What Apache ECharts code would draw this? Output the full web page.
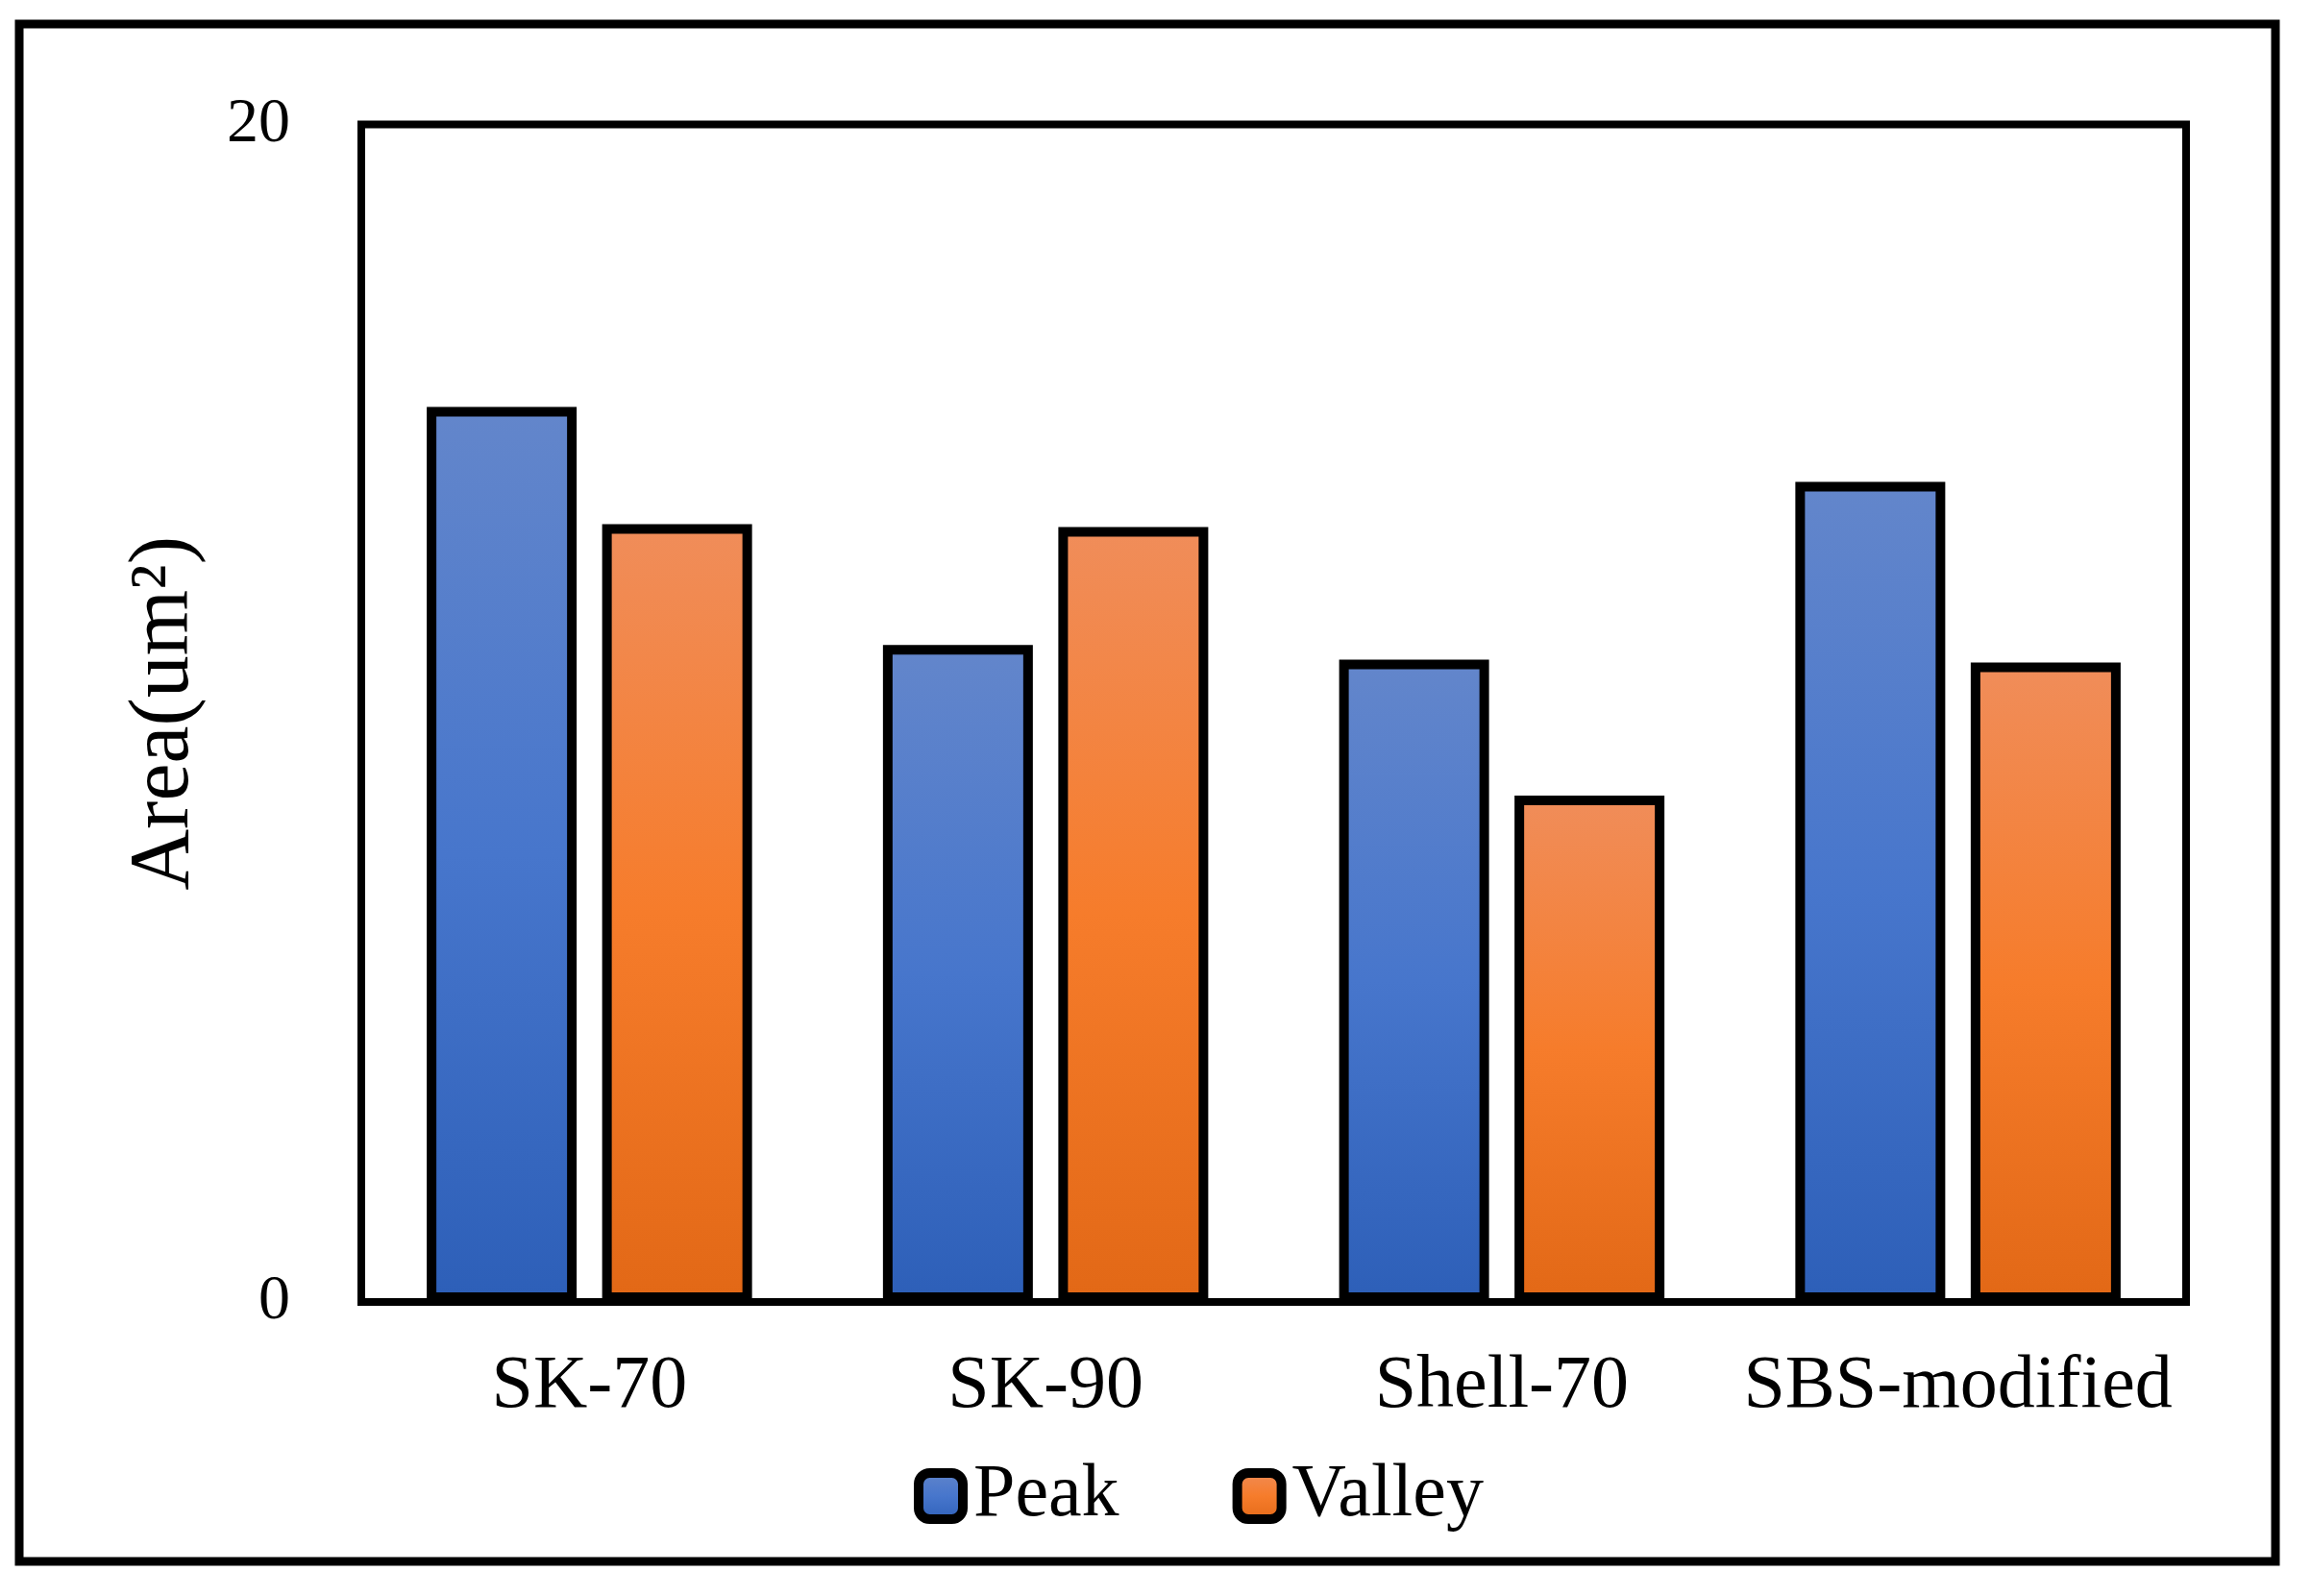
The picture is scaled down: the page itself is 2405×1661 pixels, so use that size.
<!DOCTYPE html>
<html>
<head>
<meta charset="utf-8">
<script src="https://cdn.jsdelivr.net/npm/echarts@6/dist/echarts.min.js"></script>
<style>
html,body{margin:0;padding:0;background:#fff;}
#chart{width:2405px;height:1661px;}
</style>
</head>
<body>
<div id="chart"></div>
<script>
const categories = ['SK-70', 'SK-90', 'Shell-70', 'SBS-modified'];
const peakValues = [15.2, 11.16, 10.91, 13.93];
const valleyValues = [13.21, 13.16, 8.6, 10.86];
const seriesNames = ['Peak', 'Valley'];
const yTicks = [0, 20];

const FONT = '"Liberation Serif", "Times New Roman", serif';

function grad(stops) {
  return new echarts.graphic.LinearGradient(0, 0, 0, 1, stops.map((c, i) => ({offset: i / (stops.length - 1), color: c})));
}
const blue = grad(['#6386CB', '#4776CC', '#2D5FB8']);
const orange = grad(['#F08D5A', '#F67C2B', '#E26816']);

const chart = echarts.init(document.getElementById('chart'));
chart.setOption({
  animation: false,
  backgroundColor: '#fff',
  graphic: [{
    type: 'rect',
    shape: {x: 20, y: 25, width: 2348, height: 1600},
    style: {fill: 'none', stroke: '#000', lineWidth: 9},
    z: -10
  }],
  grid: {
    left: 376, right: 130, top: 129.5, bottom: 306,
    show: true, borderColor: '#000', borderWidth: 8, backgroundColor: 'transparent'
  },
  legend: {
    data: seriesNames,
    left: 951, top: 1517,
    padding: 0,
    icon: 'roundRect',
    itemWidth: 46, itemHeight: 48,
    itemGap: 118,
    itemStyle: {borderColor: '#000', borderWidth: 10},
    textStyle: {fontFamily: FONT, fontSize: 78, color: '#000', lineHeight: 80, padding: [0, 0, 0, 6]}
  },
  xAxis: {
    type: 'category',
    data: categories,
    axisLine: {show: false},
    axisTick: {show: false},
    axisLabel: {fontFamily: FONT, fontSize: 78, color: '#000', margin: 50, interval: 0}
  },
  yAxis: {
    type: 'value',
    min: yTicks[0], max: yTicks[yTicks.length - 1], interval: yTicks[1] - yTicks[0],
    name: 'Area(um²)',
    nameLocation: 'middle',
    nameGap: 160,
    nameTextStyle: {fontFamily: FONT, fontSize: 88, color: '#000'},
    axisLine: {show: false},
    axisTick: {show: false},
    splitLine: {show: false},
    axisLabel: {fontFamily: FONT, fontSize: 66, color: '#000', margin: 74}
  },
  series: [
    {
      name: seriesNames[0], type: 'bar', data: peakValues,
      barWidth: 156, barGap: '17%',
      itemStyle: {color: blue, borderColor: '#000', borderWidth: 10}
    },
    {
      name: seriesNames[1], type: 'bar', data: valleyValues,
      barWidth: 156, barGap: '17%',
      itemStyle: {color: orange, borderColor: '#000', borderWidth: 10}
    }
  ]
});
</script>
</body>
</html>
